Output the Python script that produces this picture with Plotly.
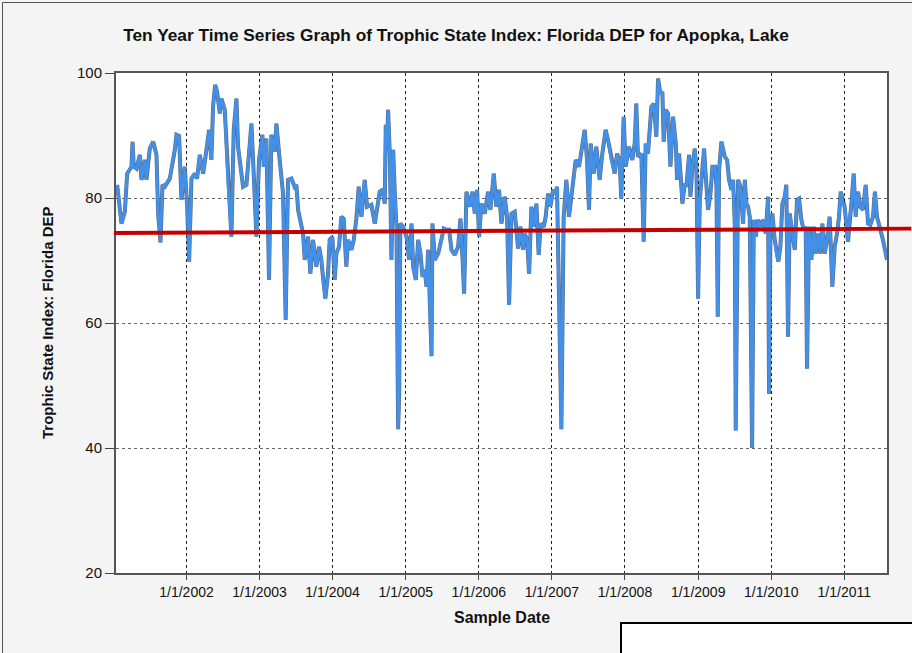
import plotly.graph_objects as go
from datetime import datetime

# ---------------- data ----------------
sample_years = [
    2001.051, 2001.110, 2001.156, 2001.188, 2001.247, 2001.261, 2001.279, 2001.316, 2001.361, 2001.384,
    2001.430, 2001.452, 2001.498, 2001.544, 2001.589, 2001.612, 2001.644, 2001.671, 2001.703, 2001.749,
    2001.772, 2001.840, 2001.863, 2001.899, 2001.931, 2001.977, 2002.009, 2002.036, 2002.068, 2002.114,
    2002.145, 2002.182, 2002.228, 2002.273, 2002.310, 2002.341, 2002.364, 2002.392, 2002.419, 2002.456,
    2002.478, 2002.524, 2002.570, 2002.615, 2002.647, 2002.684, 2002.706, 2002.775, 2002.821, 2002.889,
    2002.912, 2002.957, 2002.993, 2003.039, 2003.057, 2003.094, 2003.130, 2003.162, 2003.208, 2003.231,
    2003.276, 2003.322, 2003.358, 2003.390, 2003.436, 2003.481,
    2003.505, 2003.528, 2003.596, 2003.619, 2003.664, 2003.696, 2003.732, 2003.778, 2003.815, 2003.846,
    2003.869, 2003.901, 2003.938, 2003.960, 2003.997, 2004.029, 2004.052, 2004.088, 2004.120, 2004.152,
    2004.188, 2004.211, 2004.257, 2004.289, 2004.325, 2004.357, 2004.394, 2004.439, 2004.471, 2004.530,
    2004.576, 2004.608, 2004.644, 2004.681, 2004.713, 2004.726, 2004.745, 2004.758, 2004.781, 2004.804,
    2004.827, 2004.850, 2004.872, 2004.895, 2004.910, 2004.925, 2004.964, 2005.009, 2005.046, 2005.078,
    2005.100, 2005.137, 2005.169, 2005.201, 2005.228, 2005.260, 2005.283, 2005.306, 2005.352, 2005.365,
    2005.397, 2005.443, 2005.488, 2005.520, 2005.557, 2005.593, 2005.625, 2005.671, 2005.716, 2005.748,
    2005.775, 2005.798, 2005.830, 2005.876, 2005.912, 2005.944, 2005.976, 2006.003, 2006.035, 2006.081,
    2006.126,
    2006.158, 2006.204, 2006.240, 2006.277, 2006.309, 2006.354, 2006.386, 2006.414, 2006.446, 2006.491,
    2006.537, 2006.569, 2006.605, 2006.628, 2006.660, 2006.688, 2006.719, 2006.751, 2006.788, 2006.819,
    2006.847, 2006.888, 2006.915, 2006.947, 2006.979, 2007.016, 2007.052, 2007.070, 2007.130, 2007.161,
    2007.198, 2007.234, 2007.266, 2007.298, 2007.326, 2007.371, 2007.417, 2007.449, 2007.481, 2007.508,
    2007.531, 2007.572, 2007.608, 2007.654, 2007.690, 2007.736, 2007.768, 2007.814, 2007.859, 2007.891,
    2007.927, 2007.950, 2007.982, 2008.010, 2008.055, 2008.101, 2008.133, 2008.155, 2008.178, 2008.224,
    2008.256, 2008.283, 2008.315, 2008.361, 2008.393, 2008.429,
    2008.452, 2008.484, 2008.511, 2008.529, 2008.557, 2008.589, 2008.621, 2008.657, 2008.694, 2008.712,
    2008.739, 2008.771, 2008.785, 2008.817, 2008.839, 2008.876, 2008.894, 2008.922, 2008.953, 2008.976,
    2008.999, 2009.022, 2009.054, 2009.081, 2009.104, 2009.136, 2009.168, 2009.195, 2009.232, 2009.250,
    2009.268, 2009.286, 2009.318, 2009.364, 2009.396, 2009.423, 2009.455, 2009.478, 2009.501, 2009.514,
    2009.546, 2009.578, 2009.615, 2009.638, 2009.660, 2009.683, 2009.706, 2009.738, 2009.761, 2009.788,
    2009.820, 2009.852, 2009.888, 2009.925, 2009.957, 2009.970, 2009.989, 2010.016, 2010.048, 2010.071,
    2010.098, 2010.125, 2010.153, 2010.185, 2010.207, 2010.230, 2010.253, 2010.290, 2010.322, 2010.353,
    2010.381, 2010.413, 2010.445, 2010.472, 2010.490, 2010.518, 2010.550, 2010.581, 2010.609, 2010.641,
    2010.673, 2010.700, 2010.732, 2010.764, 2010.800, 2010.837, 2010.869, 2010.901, 2010.928, 2010.951,
    2010.983, 2011.005, 2011.051, 2011.074, 2011.097, 2011.129, 2011.156, 2011.188, 2011.220, 2011.256,
    2011.293, 2011.325, 2011.357, 2011.393, 2011.420, 2011.448, 2011.484, 2011.530, 2011.585,
]
tsi_values = [
    82.1, 75.9, 77.8, 83.9, 85.0, 89.0, 85.0, 84.7, 86.9, 82.9,
    86.1, 82.9, 87.9, 89.0, 86.9, 77.5, 72.9, 82.1, 81.8, 82.9,
    83.1, 87.7, 90.1, 89.9, 79.7, 85.0, 78.6, 69.8, 83.1, 83.9,
    83.1, 86.9, 83.9, 87.7, 90.9, 86.1, 94.6, 98.1, 97.0, 93.5,
    95.9, 94.1, 82.3, 73.8, 90.9, 95.9, 88.2, 81.8, 82.1, 91.9,
    86.1, 73.8, 86.1, 90.1, 85.0, 89.5, 66.9, 90.1, 87.4, 91.9,
    86.1, 80.7, 60.5, 82.9, 83.1, 81.8,
    82.1, 78.1, 74.3, 70.1, 73.8, 67.9, 73.3, 69.0, 72.2, 70.1,
    67.4, 63.9, 67.9, 73.3, 73.8, 66.9, 71.1, 72.2, 77.0, 76.7,
    69.0, 73.3, 71.7, 73.3, 76.7, 81.8, 77.0, 82.9, 78.6, 78.9,
    75.9, 78.1, 81.0, 81.3, 79.1, 91.7, 88.2, 94.1, 87.1, 70.1,
    87.7, 80.7, 75.4, 43.0, 48.8, 75.9, 75.4, 73.8, 70.1, 75.9,
    69.0, 66.9, 73.3, 71.1, 67.4, 68.5, 65.8, 71.7, 54.7, 75.9,
    70.1, 71.1, 73.8, 75.1, 74.9, 74.9, 71.7, 70.9, 72.2, 76.7,
    70.6, 64.7, 81.0, 78.6, 81.0, 77.5, 81.3, 73.8, 79.1, 77.5,
    81.0,
    78.1, 83.9, 78.6, 81.3, 75.9, 80.2, 77.0, 62.9, 77.5, 77.8,
    71.9, 75.4, 71.7, 74.3, 73.3, 67.9, 78.6, 75.4, 79.1, 70.9,
    75.9, 75.4, 77.0, 80.7, 78.6, 81.3, 80.7, 81.8, 43.0, 77.0,
    82.9, 77.0, 80.7, 82.9, 86.1, 85.0, 88.7, 90.9, 86.1, 78.1,
    88.7, 83.9, 88.2, 82.9, 87.1, 90.9, 89.3, 86.1, 83.9, 87.1,
    86.1, 79.9, 93.0, 85.0, 88.2, 86.1, 88.7, 95.1, 86.6, 87.1,
    73.0, 88.7, 87.1, 94.6, 95.1, 89.8,
    99.1, 96.7, 97.0, 89.0, 94.1, 93.5, 85.0, 93.0, 88.7, 82.9,
    87.1, 81.8, 79.1, 82.3, 81.8, 86.9, 80.2, 85.0, 87.9, 85.0,
    63.9, 79.7, 84.5, 87.9, 83.4, 78.1, 80.7, 85.0, 85.0, 81.8,
    61.0, 84.5, 89.0, 86.6, 86.1, 82.9, 81.3, 82.9, 75.9, 42.8,
    82.9, 81.8, 75.9, 82.9, 79.1, 78.6, 77.0, 40.0, 76.5, 73.8,
    76.5, 75.4, 76.5, 74.3, 80.2, 48.7, 74.3, 77.5, 73.3, 71.1,
    69.8, 72.2, 79.1, 80.2, 82.1, 57.8, 77.5, 74.3, 71.7, 79.7,
    79.9, 76.5, 74.9, 75.4, 52.7, 75.4, 70.1, 75.4, 71.1, 74.3,
    71.1, 75.9, 71.1, 73.3, 77.0, 65.8, 72.2, 74.3, 77.0, 81.0,
    79.1, 78.6, 73.0, 77.0, 79.1, 83.9, 77.0, 81.0, 78.6, 78.1,
    82.1, 75.9, 75.7, 77.0, 81.0, 77.0, 75.4, 73.3, 70.1,
]
trend_years = [2001.006, 2011.918]
trend_values = [74.4, 75.1]
x_tick_years = [2002, 2003, 2004, 2005, 2006, 2007, 2008, 2009, 2010, 2011]
x_tick_labels = ["1/1/2002", "1/1/2003", "1/1/2004", "1/1/2005", "1/1/2006",
                 "1/1/2007", "1/1/2008", "1/1/2009", "1/1/2010", "1/1/2011"]
y_tick_values = [20, 40, 60, 80, 100]
x_range_years = [2001.035, 2011.585]
y_range = [20, 100]

TITLE = "Ten Year Time Series Graph of Trophic State Index: Florida DEP for Apopka, Lake"
Y_TITLE = "Trophic State Index: Florida DEP"
X_TITLE = "Sample Date"


def to_date(y):
    yr = int(y)
    start = datetime(yr, 1, 1)
    end = datetime(yr + 1, 1, 1)
    return start + (end - start) * (y - yr)


dates = [to_date(y) for y in sample_years]
x0d, x1d = to_date(x_range_years[0]), to_date(x_range_years[1])


def paper_x(y):
    return (to_date(y) - x0d) / (x1d - x0d)


def paper_y(v):
    return (v - y_range[0]) / (y_range[1] - y_range[0])


# ---------------- figure geometry ----------------
W, H = 912, 653
ML, MR, MT, MB = 116, 25, 73, 80
PW, PH = W - ML - MR, H - MT - MB


def px_to_paper_x(px):
    return (px - ML) / PW


def px_to_paper_y(py):
    return (H - MB - py) / PH


FONT = "Liberation Sans, Arial, sans-serif"

fig = go.Figure()
fig.add_trace(go.Scatter(
    x=dates, y=tsi_values, mode="lines",
    line=dict(color="rgba(30,40,60,0.7)", width=4),
    hoverinfo="skip", showlegend=False,
))
fig.add_trace(go.Scatter(
    x=dates, y=tsi_values, mode="lines",
    line=dict(color="#4290e8", width=3),
    showlegend=False,
))

shapes = [
    # outer frame (left/top visible)
    dict(type="rect", xref="paper", yref="paper",
         x0=px_to_paper_x(2.5), y0=px_to_paper_y(H + 20),
         x1=px_to_paper_x(W + 20), y1=px_to_paper_y(2.5),
         line=dict(color="#555", width=1), fillcolor="rgba(0,0,0,0)", layer="below"),
    # trend line
    dict(type="line", xref="paper", yref="paper",
         x0=paper_x(trend_years[0]), y0=paper_y(trend_values[0]),
         x1=paper_x(trend_years[1]), y1=paper_y(trend_values[1]),
         line=dict(color="#c40000", width=4), layer="above"),
    # white box in bottom-right corner
    dict(type="rect", xref="paper", yref="paper",
         x0=px_to_paper_x(621), y0=px_to_paper_y(H + 20),
         x1=px_to_paper_x(W + 20), y1=px_to_paper_y(623),
         line=dict(color="#000", width=2), fillcolor="white", layer="above"),
]

annotations = [
    dict(text="<b>" + Y_TITLE + "</b>", xref="paper", yref="paper",
         x=px_to_paper_x(47), y=0.5, textangle=-90, showarrow=False,
         xanchor="center", yanchor="middle",
         font=dict(family=FONT, size=15, color="#111")),
    dict(text="<b>" + X_TITLE + "</b>", xref="paper", yref="paper",
         x=0.5, y=px_to_paper_y(617), showarrow=False,
         xanchor="center", yanchor="middle",
         font=dict(family=FONT, size=16, color="#111")),
]

fig.update_layout(
    width=W, height=H,
    margin=dict(l=ML, r=MR, t=MT, b=MB, pad=0),
    paper_bgcolor="#f4f4f4", plot_bgcolor="white",
    title=dict(text="<b>" + TITLE + "</b>", x=0.5, xref="container", xanchor="center",
               y=1 - 35 / H, yref="container", yanchor="middle",
               font=dict(family=FONT, size=17.3, color="#111")),
    shapes=shapes, annotations=annotations,
    showlegend=False,
    xaxis=dict(
        type="date", range=[x0d, x1d],
        tickvals=[to_date(y) for y in x_tick_years], ticktext=x_tick_labels,
        ticks="outside", ticklen=5, tickcolor="#444", tickwidth=1,
        showline=True, linecolor="#555", linewidth=2, mirror=True,
        showgrid=True, gridcolor="#222", gridwidth=1, griddash="dot",
        tickfont=dict(family=FONT, size=14, color="#111"),
        zeroline=False,
    ),
    yaxis=dict(
        range=y_range, tickvals=y_tick_values,
        ticks="outside", ticklen=9, tickcolor="#444", tickwidth=1,
        showline=True, linecolor="#555", linewidth=2, mirror=True,
        showgrid=True, gridcolor="#666", gridwidth=1, griddash="dot",
        tickfont=dict(family=FONT, size=15, color="#111"),
        zeroline=False,
    ),
)

fig.write_html(
    "out.html",
    config={"displayModeBar": False},
    post_script="document.body.style.margin='0';document.body.style.overflow='hidden';",
)
